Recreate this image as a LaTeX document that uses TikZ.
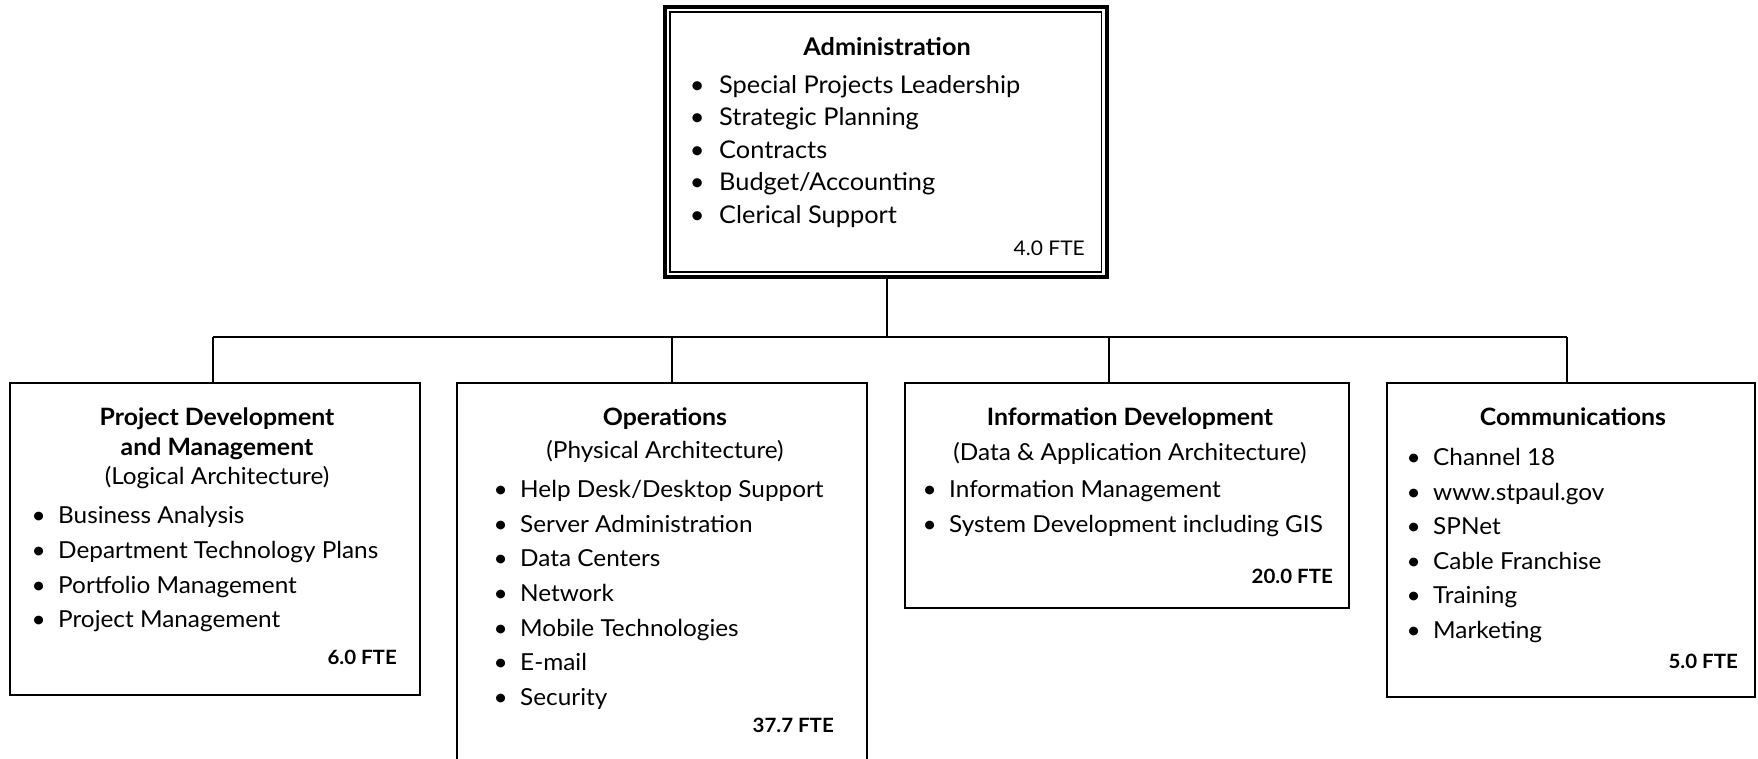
\documentclass[tikz,border=0pt]{standalone}
\usepackage{fontspec}
\setmainfont{Lato}[FakeStretch=1.04]
\newcommand\lowreg{\fontsize{23.4}{26}\selectfont}
\newcommand\lowbold{\fontsize{23.9}{26}\selectfont\bfseries}
\newcommand\lowfte{\fontsize{19.7}{24}\selectfont\bfseries}
\newcommand\topreg{\fontsize{24.4}{27}\selectfont}
\newcommand\topbold{\fontsize{24.3}{27}\selectfont\bfseries}
\newcommand\topfte{\fontsize{20.2}{24}\selectfont}
\begin{document}
\begin{tikzpicture}[x=1pt,y=-1pt,
  box/.style={draw, line width=2.4pt, rectangle, inner sep=0pt, outer sep=0pt, anchor=north west},
  conn/.style={line width=1.4pt},
  ttl/.style={font=\lowbold, anchor=base, inner sep=0pt},
  sub/.style={font=\lowreg, anchor=base, inner sep=0pt},
  item/.style={font=\lowreg, anchor=base west, inner sep=0pt},
  topitem/.style={font=\topreg, anchor=base west, inner sep=0pt},
  fte/.style={font=\lowfte, anchor=base east, inner sep=0pt}]
\useasboundingbox (0,0) rectangle (1758,758);
\newcommand\itm[3]{\node[item] (#1) at (#2) {\llap{\textbullet\hspace{12.5pt}}#3};}
\newcommand\titm[3]{\node[topitem] (#1) at (#2) {\llap{\textbullet\hspace{14.5pt}}#3};}
% top box
\node[box, line width=4pt, minimum width=441.5pt, minimum height=270pt] (adm) at (665,7) {};
\node[draw, line width=1.5pt, inner sep=0pt, outer sep=0pt, minimum width=431.5pt, minimum height=260pt] (admin) at (adm.center) {};
\node[font=\topbold, anchor=base, inner sep=0pt] (admt) at (887,55) {Administration};
\titm{a1}{719,93}{Special Projects Leadership}
\titm{a2}{719,125.5}{Strategic Planning}
\titm{a3}{719,158}{Contracts}
\titm{a4}{719,190.5}{Budget/Accounting}
\titm{a5}{719,223}{Clerical Support}
\node[font=\topfte, anchor=base east, inner sep=0pt] (af) at (1085,255) {4.0 FTE};
% box 1
\node[box, minimum width=410pt, minimum height=312pt] (b1) at (10,383) {};
\node[ttl] (b1t1) at (217,425) {Project Development};
\node[ttl] (b1t2) at (217,455) {and Management};
\node[sub] (b1s) at (217,484) {(Logical Architecture)};
\itm{p1}{58,523}{Business Analysis}
\itm{p2}{58,558}{Department Technology Plans}
\itm{p3}{58,593}{Portfolio Management}
\itm{p4}{58,627}{Project Management}
\node[fte] (b1f) at (397,664) {6.0 FTE};
% box 2
\node[box, minimum width=410pt, minimum height=390pt] (b2) at (457,383) {};
\node[ttl] (b2t) at (665,425) {Operations};
\node[sub] (b2s) at (665,458) {(Physical Architecture)};
\itm{o1}{520,497}{Help Desk/Desktop Support}
\itm{o2}{520,532}{Server Administration}
\itm{o3}{520,566.5}{Data Centers}
\itm{o4}{520,601}{Network}
\itm{o5}{520,636}{Mobile Technologies}
\itm{o6}{520,670.5}{E-mail}
\itm{o7}{520,705}{Security}
\node[fte] (b2f) at (834,732) {37.7 FTE};
% box 3
\node[box, minimum width=444pt, minimum height=225pt] (b3) at (905,383) {};
\node[ttl] (b3t) at (1130,425) {Information Development};
\node[sub] (b3s) at (1130,460) {(Data \& Application Architecture)};
\itm{i1}{949,497}{Information Management}
\itm{i2}{949,532}{System Development including GIS}
\node[fte] (b3f) at (1333,583) {20.0 FTE};
% box 4
\node[box, minimum width=368pt, minimum height=314pt] (b4) at (1387,383) {};
\node[ttl] (b4t) at (1573,425) {Communications};
\itm{c1}{1433,465}{Channel 18}
\itm{c2}{1433,500}{www.stpaul.gov}
\itm{c3}{1433,534.5}{SPNet}
\itm{c4}{1433,569}{Cable Franchise}
\itm{c5}{1433,603.5}{Training}
\itm{c6}{1433,638}{Marketing}
\node[fte] (b4f) at (1738,668) {5.0 FTE};
% connectors
\coordinate (hub) at (887,337);
\coordinate (s1) at (213,337);
\coordinate (s2) at (672,337);
\coordinate (s3) at (1109,337);
\coordinate (s4) at (1567,337);
\draw[conn] (adm.south -| hub) -- (hub);
\draw[conn] (s1) -- (s4);
\draw[conn] (s1) -- (s1 |- b1.north);
\draw[conn] (s2) -- (s2 |- b2.north);
\draw[conn] (s3) -- (s3 |- b3.north);
\draw[conn] (s4) -- (s4 |- b4.north);
\end{tikzpicture}
\end{document}
